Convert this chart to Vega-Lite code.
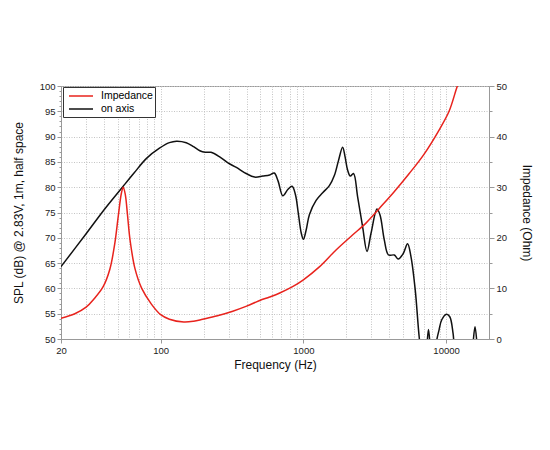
{
  "$schema": "https://vega.github.io/schema/vega-lite/v6.json",
  "width": 428,
  "height": 253,
  "autosize": "none",
  "padding": {"left": 61, "top": 86, "right": 61, "bottom": 111},
  "background": "white",
  "config": {
    "font": "Liberation Sans",
    "view": {"stroke": "#999999", "strokeWidth": 1},
    "axis": {
      "domainColor": "#999999",
      "tickColor": "#999999",
      "labelColor": "#222222",
      "labelFontSize": 9.5,
      "titleColor": "#111111",
      "titleFontSize": 12,
      "titleFontWeight": "normal",
      "gridColor": "#c4c4c4",
      "gridDash": [1, 1.5],
      "gridWidth": 1
    }
  },
  "datasets": {
    "spl": [
      {"freq": 20, "spl": 64.3}, {"freq": 30, "spl": 70.8}, {"freq": 40, "spl": 75.5},
      {"freq": 54.6, "spl": 80.2}, {"freq": 65, "spl": 82.8}, {"freq": 79.5, "spl": 85.7},
      {"freq": 98, "spl": 87.7}, {"freq": 115, "spl": 88.8}, {"freq": 129, "spl": 89.1},
      {"freq": 151, "spl": 88.8}, {"freq": 170, "spl": 88.0}, {"freq": 188, "spl": 87.2},
      {"freq": 205, "spl": 86.9}, {"freq": 225, "spl": 86.9}, {"freq": 259, "spl": 86.0},
      {"freq": 296, "spl": 84.8}, {"freq": 339, "spl": 83.9}, {"freq": 397, "spl": 82.7},
      {"freq": 455, "spl": 82.0}, {"freq": 520, "spl": 82.2}, {"freq": 580, "spl": 82.4},
      {"freq": 625, "spl": 82.8}, {"freq": 665, "spl": 81.2}, {"freq": 718, "spl": 78.3},
      {"freq": 780, "spl": 79.6}, {"freq": 834, "spl": 80.2}, {"freq": 880, "spl": 78.5},
      {"freq": 920, "spl": 75.0}, {"freq": 965, "spl": 71.0}, {"freq": 1000, "spl": 69.7},
      {"freq": 1045, "spl": 71.5}, {"freq": 1103, "spl": 74.6}, {"freq": 1228, "spl": 77.4},
      {"freq": 1365, "spl": 78.9}, {"freq": 1521, "spl": 80.3}, {"freq": 1648, "spl": 82.3},
      {"freq": 1760, "spl": 85.2}, {"freq": 1884, "spl": 87.9}, {"freq": 1960, "spl": 86.0},
      {"freq": 2041, "spl": 83.4}, {"freq": 2134, "spl": 82.2}, {"freq": 2245, "spl": 82.7},
      {"freq": 2400, "spl": 78.1}, {"freq": 2600, "spl": 72.2}, {"freq": 2793, "spl": 67.3},
      {"freq": 2979, "spl": 70.9}, {"freq": 3281, "spl": 75.7}, {"freq": 3446, "spl": 74.5},
      {"freq": 3690, "spl": 69.6}, {"freq": 3953, "spl": 66.6}, {"freq": 4335, "spl": 66.6},
      {"freq": 4622, "spl": 65.8}, {"freq": 5013, "spl": 66.9}, {"freq": 5372, "spl": 68.8},
      {"freq": 5675, "spl": 66.3}, {"freq": 6081, "spl": 59.7}, {"freq": 6476, "spl": 50.5},
      {"freq": 6900, "spl": 44}, {"freq": 7250, "spl": 47}, {"freq": 7533, "spl": 51.9},
      {"freq": 7800, "spl": 47}, {"freq": 8100, "spl": 43}, {"freq": 8571, "spl": 49.5},
      {"freq": 8935, "spl": 51.8}, {"freq": 9330, "spl": 53.8}, {"freq": 10070, "spl": 54.9},
      {"freq": 10620, "spl": 54.4}, {"freq": 11200, "spl": 51.1}, {"freq": 11800, "spl": 44},
      {"freq": 13500, "spl": 40}, {"freq": 15000, "spl": 44}, {"freq": 15450, "spl": 49},
      {"freq": 15960, "spl": 52.4}, {"freq": 16590, "spl": 48}, {"freq": 17500, "spl": 40},
      {"freq": 20000, "spl": 35}
    ],
    "imp": [
      {"freq": 20, "ohm": 4.1}, {"freq": 25, "ohm": 5.0}, {"freq": 30, "ohm": 6.3},
      {"freq": 34, "ohm": 7.9}, {"freq": 39.4, "ohm": 10.3}, {"freq": 44, "ohm": 13.8},
      {"freq": 47.6, "ohm": 18.8}, {"freq": 50.5, "ohm": 24.5}, {"freq": 53, "ohm": 28.8},
      {"freq": 54.6, "ohm": 30.0}, {"freq": 56.5, "ohm": 28.5}, {"freq": 58.5, "ohm": 24.5},
      {"freq": 61, "ohm": 19.5}, {"freq": 66, "ohm": 13.9}, {"freq": 73.6, "ohm": 10.0},
      {"freq": 86, "ohm": 6.9}, {"freq": 100, "ohm": 4.8}, {"freq": 115, "ohm": 3.9},
      {"freq": 145, "ohm": 3.35}, {"freq": 170, "ohm": 3.5}, {"freq": 197, "ohm": 3.9},
      {"freq": 250, "ohm": 4.6}, {"freq": 320, "ohm": 5.5}, {"freq": 400, "ohm": 6.5},
      {"freq": 494, "ohm": 7.6}, {"freq": 580, "ohm": 8.3}, {"freq": 683, "ohm": 9.1},
      {"freq": 846, "ohm": 10.4}, {"freq": 1000, "ohm": 11.7}, {"freq": 1300, "ohm": 14.3},
      {"freq": 1694, "ohm": 17.6}, {"freq": 2200, "ohm": 20.5}, {"freq": 2746, "ohm": 22.9},
      {"freq": 3405, "ohm": 25.8}, {"freq": 4300, "ohm": 29.0}, {"freq": 5520, "ohm": 32.7},
      {"freq": 7000, "ohm": 36.5}, {"freq": 8935, "ohm": 41.3}, {"freq": 10500, "ohm": 45.0},
      {"freq": 12000, "ohm": 50.0}, {"freq": 13000, "ohm": 52.5}
    ]
  },
  "encoding": {
    "x": {
      "field": "freq",
      "type": "quantitative",
      "scale": {"type": "log", "domain": [20, 20000], "nice": false},
      "axis": {
        "title": "Frequency (Hz)",
        "values": [20, 30, 40, 50, 60, 70, 80, 90, 100, 200, 300, 400, 500, 600, 700, 800, 900, 1000, 2000, 3000, 4000, 5000, 6000, 7000, 8000, 9000, 10000, 20000],
        "labelExpr": "indexof([20, 100, 1000, 10000], datum.value) >= 0 ? format(datum.value, 'd') : ''",
        "tickSize": {"condition": {"test": "indexof([20, 100, 1000, 10000], datum.value) >= 0", "value": 4}, "value": 0},
        "labelPadding": 2,
        "titlePadding": 5,
        "labelFlush": false
      }
    }
  },
  "layer": [
    {
      "data": {"name": "spl"},
      "mark": {"type": "line", "interpolate": "catmull-rom", "strokeWidth": 1.5, "clip": true},
      "encoding": {
        "y": {
          "field": "spl",
          "type": "quantitative",
          "scale": {"domain": [50, 100], "nice": false, "zero": false},
          "axis": {
            "title": "SPL (dB) @ 2.83V, 1m, half space",
            "orient": "left",
            "values": [50, 51, 52, 53, 54, 55, 56, 57, 58, 59, 60, 61, 62, 63, 64, 65, 66, 67, 68, 69, 70, 71, 72, 73, 74, 75, 76, 77, 78, 79, 80, 81, 82, 83, 84, 85, 86, 87, 88, 89, 90, 91, 92, 93, 94, 95, 96, 97, 98, 99, 100],
            "labelExpr": "datum.value % 5 === 0 ? datum.label : ''",
            "tickSize": {"condition": {"test": "datum.value % 5 === 0", "value": 4}, "value": 2},
            "gridOpacity": {"condition": {"test": "datum.value % 5 === 0", "value": 1}, "value": 0},
            "labelPadding": 2,
            "titlePadding": 14
          }
        },
        "color": {
          "datum": "on axis",
          "scale": {"domain": ["Impedance", "on axis"], "range": ["#e8231d", "#111111"]},
          "legend": {
            "title": null,
            "orient": "none",
            "legendX": 2,
            "legendY": 1,
            "fillColor": "white",
            "strokeColor": "#333333",
            "padding": 2,
            "symbolType": "M-2,0H2",
            "symbolSize": 144,
            "symbolOffset": 9,
            "symbolStrokeWidth": 1.5,
            "labelFontSize": 10.5,
            "labelOffset": 13,
            "rowPadding": 0
          }
        }
      }
    },
    {
      "data": {"name": "imp"},
      "mark": {"type": "line", "interpolate": "catmull-rom", "strokeWidth": 1.5, "clip": true},
      "encoding": {
        "y": {
          "field": "ohm",
          "type": "quantitative",
          "scale": {"domain": [0, 50], "nice": false},
          "axis": {
            "title": "Impedance (Ohm)",
            "orient": "right",
            "values": [0, 5, 10, 15, 20, 25, 30, 35, 40, 45, 50],
            "labelExpr": "datum.value % 10 === 0 ? datum.label : ''",
            "tickSize": {"condition": {"test": "datum.value % 10 === 0", "value": 5}, "value": 3},
            "grid": false,
            "labelPadding": 2,
            "titlePadding": 13
          }
        },
        "color": {"datum": "Impedance"}
      }
    }
  ],
  "resolve": {"scale": {"y": "independent"}}
}
